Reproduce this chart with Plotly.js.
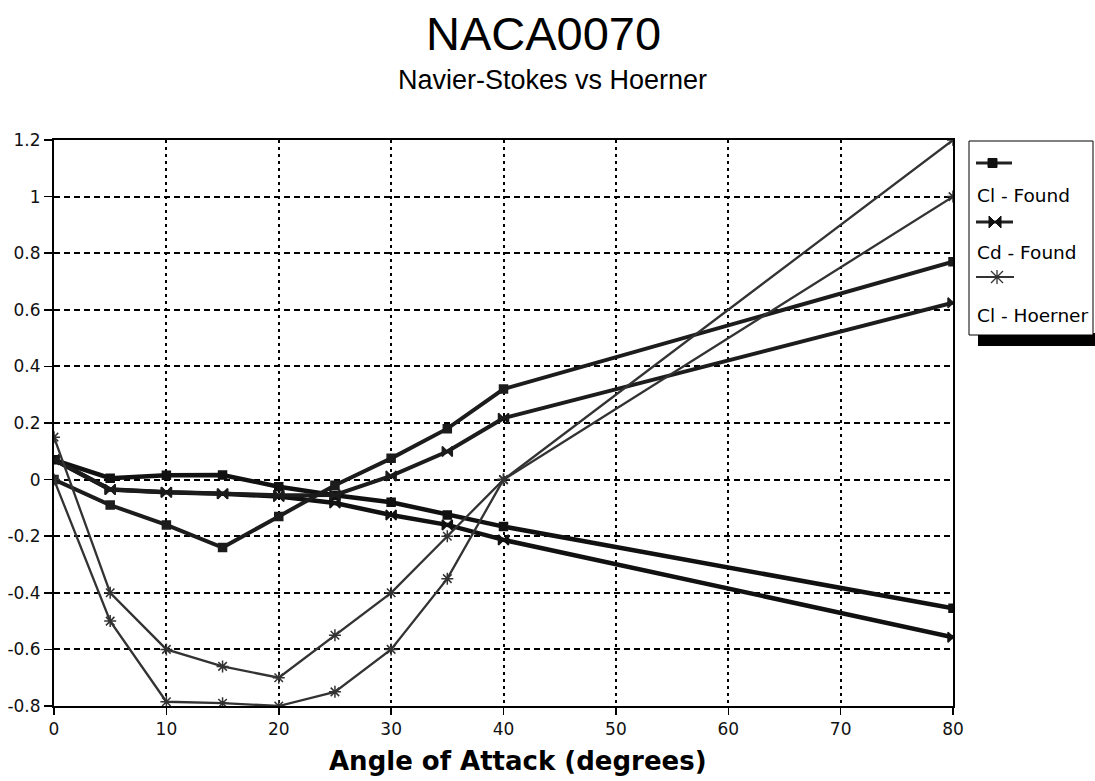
<!DOCTYPE html>
<html>
<head>
<meta charset="utf-8">
<script src="https://cdn.plot.ly/plotly-3.0.1.min.js"></script>
<style>html,body{margin:0;padding:0;background:#fff;}#chart{width:1095px;height:781px;}</style>
</head>
<body>
<div id="chart"></div>
<script>
// ---- data ----
const angle      = [0, 5, 10, 15, 20, 25, 30, 35, 40, 80];
const clFound    = [0.00, -0.09, -0.16, -0.24, -0.13, -0.02, 0.075, 0.18, 0.32, 0.77];
const cdFound    = [0.07, -0.035, -0.045, -0.05, -0.055, -0.054, 0.013, 0.099, 0.217, 0.625];
const fallA      = [0.07, 0.005, 0.015, 0.016, -0.025, -0.055, -0.08, -0.125, -0.166, -0.455];
const fallB      = [0.07, -0.035, -0.045, -0.05, -0.06, -0.083, -0.125, -0.16, -0.213, -0.557];
const clHoernerA = [0.15, -0.40, -0.60, -0.66, -0.70, -0.55, -0.40, -0.20, 0.00, 1.20];
const clHoernerB = [0.00, -0.50, -0.785, -0.79, -0.80, -0.75, -0.60, -0.35, 0.00, 1.00];
const xTicks = [0, 10, 20, 30, 40, 50, 60, 70, 80];
const yTicks = [-0.8, -0.6, -0.4, -0.2, 0, 0.2, 0.4, 0.6, 0.8, 1, 1.2];
const yTickText = ['-0.8', '-0.6', '-0.4', '-0.2', '0', '0.2', '0.4', '0.6', '0.8', '1', '1.2'];
const legendNames = ['Cl - Found', 'Cd - Found', 'Cl - Hoerner'];

const FOUND_W = 4, HOER_W = 2.3;
function tr(y, name, sym, size, color, w) {
  return {
    x: angle, y: y, name: name, type: 'scatter', mode: 'lines+markers',
    line: {color: color, width: w},
    marker: {symbol: sym, size: size, color: color, line: {color: color, width: 1.5}},
    showlegend: false, hoverinfo: 'skip'
  };
}
const traces = [
  tr(fallB, 'Found 4', 'bowtie', 10, '#111', FOUND_W + 0.5),
  tr(fallA, 'Found 3', 'square', 8, '#111', FOUND_W + 0.5),
  tr(cdFound, legendNames[1], 'bowtie', 10, '#1c1c1c', FOUND_W),
  tr(clFound, legendNames[0], 'square', 8, '#1c1c1c', FOUND_W),
  tr(clHoernerA, 'Hoerner 2', 'asterisk-open', 10, '#333', HOER_W),
  tr(clHoernerB, legendNames[2], 'asterisk-open', 10, '#333', HOER_W)
];

// pixel -> paper helpers for the hand-built legend
const L = 54, R = 953, T = 140, B = 706;
const px = x => (x - L) / (R - L);
const py = y => (B - y) / (B - T);

const FONT = 'Liberation Sans, Arial, sans-serif';
const WIDE = 'DejaVu Sans, sans-serif';
const shapes = [
  {type: 'rect', xref: 'paper', yref: 'paper', x0: px(978), x1: px(1096), y0: py(346), y1: py(333),
   fillcolor: '#000', line: {width: 0}},
  {type: 'rect', xref: 'paper', yref: 'paper', x0: px(969), x1: px(1093), y0: py(335), y1: py(141),
   fillcolor: '#fff', line: {color: '#000', width: 1}},
  // sample 1 : line + filled square
  {type: 'line', xref: 'paper', yref: 'paper', x0: px(976), x1: px(1012), y0: py(163), y1: py(163),
   line: {color: '#222', width: 3}},
  {type: 'rect', xref: 'paper', yref: 'paper', x0: px(988), x1: px(997), y0: py(158.5), y1: py(167.5),
   fillcolor: '#111', line: {color: '#111', width: 1}},
  // sample 2 : line + bowtie
  {type: 'line', xref: 'paper', yref: 'paper', x0: px(976), x1: px(1013), y0: py(222), y1: py(222),
   line: {color: '#222', width: 3}},
  {type: 'path', xref: 'paper', yref: 'paper',
   path: 'M' + px(989) + ',' + py(216) + ' L' + px(1001) + ',' + py(228) + ' L' + px(1001) + ',' + py(216) +
         ' L' + px(989) + ',' + py(228) + ' Z',
   fillcolor: '#111', line: {color: '#111', width: 1}},
  // sample 3 : thin line + asterisk
  {type: 'line', xref: 'paper', yref: 'paper', x0: px(976), x1: px(1014), y0: py(277), y1: py(277),
   line: {color: '#333', width: 2}},
  {type: 'path', xref: 'paper', yref: 'paper',
   path: 'M' + px(997) + ',' + py(270) + ' L' + px(997) + ',' + py(284) +
         ' M' + px(991) + ',' + py(271) + ' L' + px(1003) + ',' + py(283) +
         ' M' + px(991) + ',' + py(283) + ' L' + px(1003) + ',' + py(271),
   line: {color: '#333', width: 1.3}}
];

const annotations = [
  {text: 'NACA0070', xref: 'paper', yref: 'paper', x: px(543), y: py(33), xanchor: 'center', yanchor: 'middle',
   showarrow: false, font: {family: FONT, size: 47, color: '#000'}},
  {text: 'Navier-Stokes vs Hoerner', xref: 'paper', yref: 'paper', x: px(552), y: py(80), xanchor: 'center', yanchor: 'middle',
   showarrow: false, font: {family: FONT, size: 27, color: '#000'}},
  {text: '<b>Angle of Attack (degrees)</b>', xref: 'paper', yref: 'paper', x: px(518), y: py(761), xanchor: 'center', yanchor: 'middle',
   showarrow: false, font: {family: WIDE, size: 26, color: '#000'}},
  {text: legendNames[0], xref: 'paper', yref: 'paper', x: px(975), y: py(195), xanchor: 'left', yanchor: 'middle',
   showarrow: false, font: {family: WIDE, size: 18.5, color: '#000'}},
  {text: legendNames[1], xref: 'paper', yref: 'paper', x: px(975), y: py(252), xanchor: 'left', yanchor: 'middle',
   showarrow: false, font: {family: WIDE, size: 18.5, color: '#000'}},
  {text: legendNames[2], xref: 'paper', yref: 'paper', x: px(975), y: py(315), xanchor: 'left', yanchor: 'middle',
   showarrow: false, font: {family: WIDE, size: 18.5, color: '#000'}}
];

const layout = {
  width: 1095, height: 781,
  margin: {l: L, r: 1095 - R, t: T, b: 781 - B, pad: 0},
  paper_bgcolor: '#fff', plot_bgcolor: '#fff',
  showlegend: false,
  xaxis: {
    range: [0, 80], tickvals: xTicks, ticktext: xTicks.map(String),
    showline: true, linecolor: '#000', linewidth: 2, mirror: true,
    ticks: 'outside', ticklen: 7, tickwidth: 1.5, tickcolor: '#000',
    showgrid: true, gridcolor: '#000', gridwidth: 2, griddash: '3px,4px',
    zeroline: false, tickfont: {family: WIDE, size: 17, color: '#111'}, fixedrange: true
  },
  yaxis: {
    range: [-0.8, 1.2], tickvals: yTicks, ticktext: yTickText,
    showline: true, linecolor: '#000', linewidth: 2, mirror: true,
    ticks: 'outside', ticklen: 8, tickwidth: 1.5, tickcolor: '#000',
    showgrid: true, gridcolor: '#000', gridwidth: 2, griddash: '6px,4px',
    zeroline: false, tickfont: {family: WIDE, size: 17, color: '#111'}, fixedrange: true
  },
  shapes: shapes,
  annotations: annotations
};

Plotly.newPlot('chart', traces, layout, {staticPlot: true, displayModeBar: false});
</script>
</body>
</html>
